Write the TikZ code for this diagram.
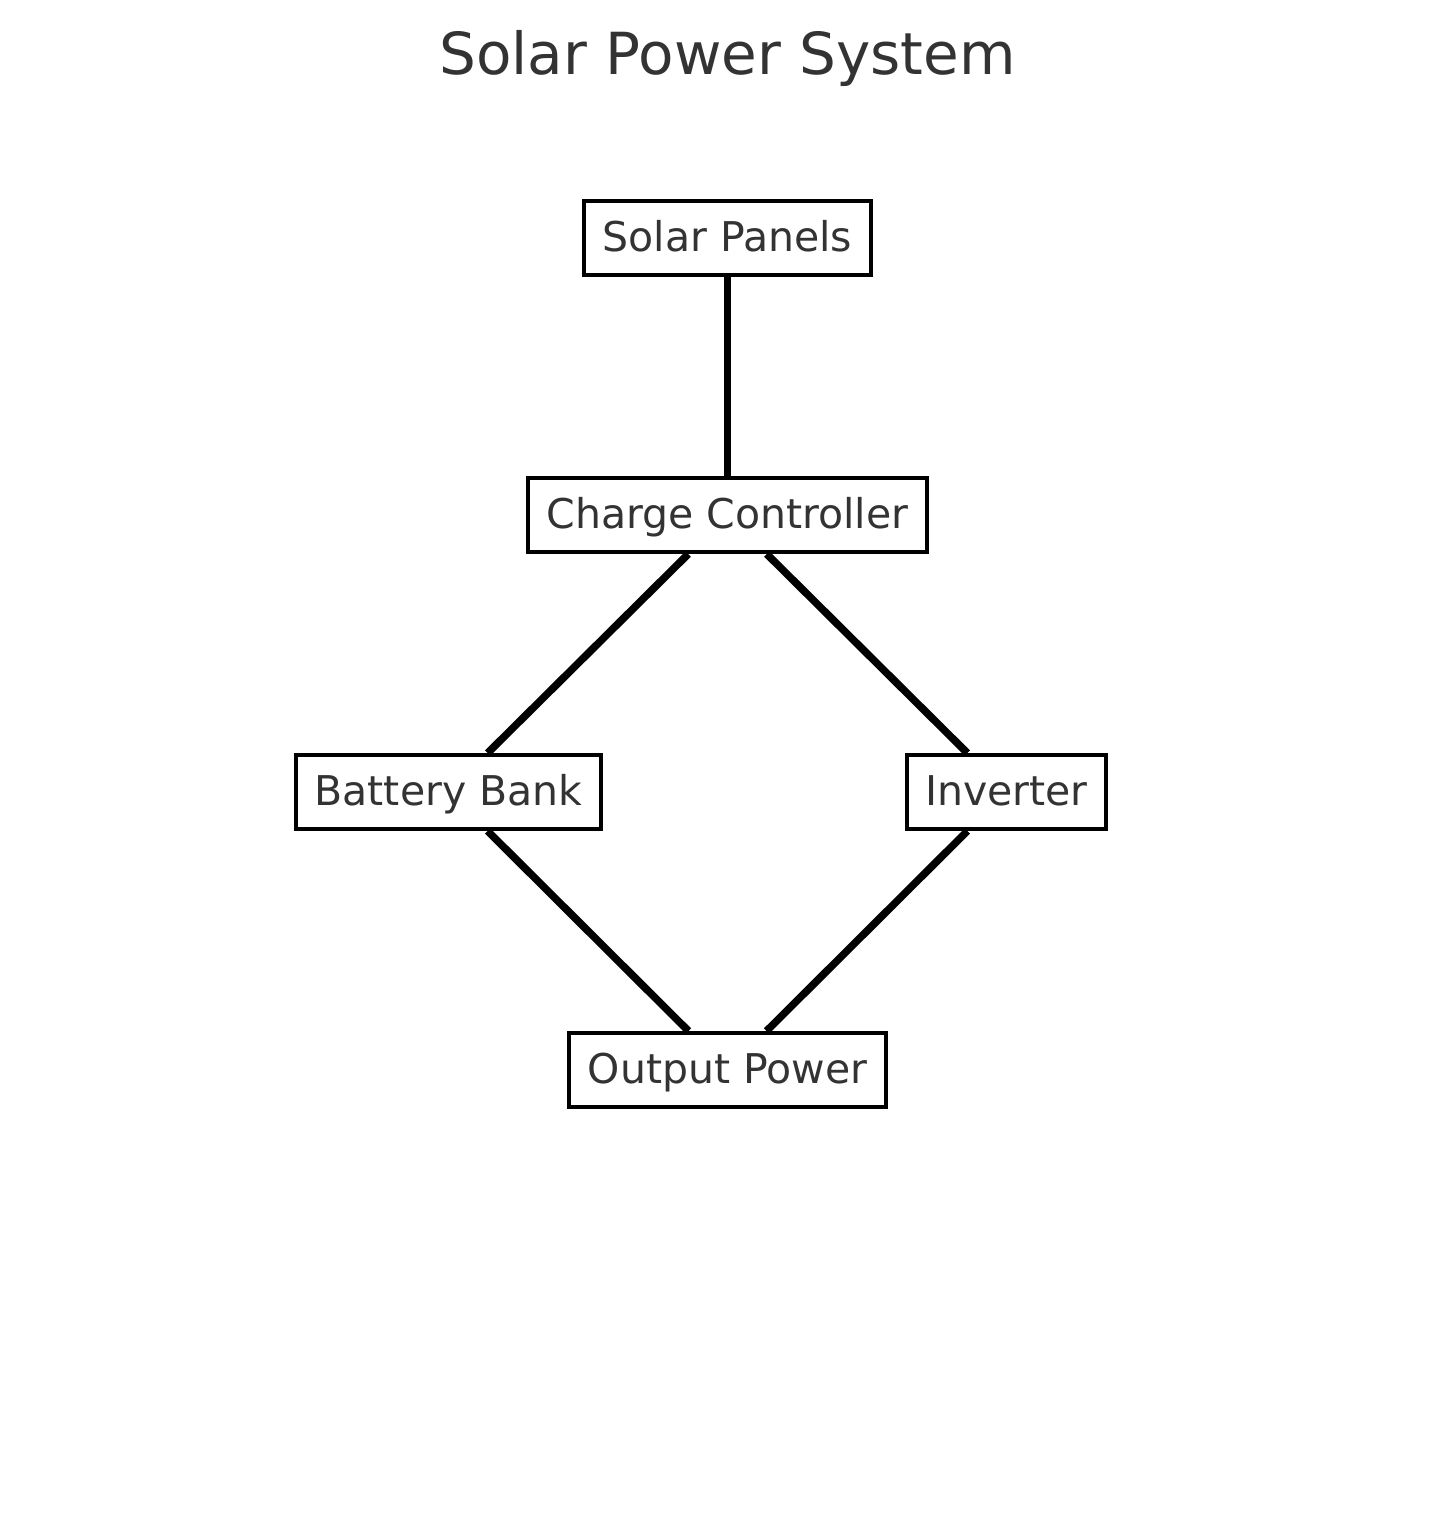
\documentclass[tikz,border=0pt]{standalone}
\usepackage{fontspec}
\setmainfont{DejaVu Sans}
\usetikzlibrary{backgrounds}

\definecolor{textgray}{HTML}{333333}

\tikzset{
  part/.style={draw=black, line width=4pt, fill=white, text=textgray,
    font=\fontsize{41}{49}\selectfont, inner xsep=18.5pt, inner ysep=0pt,
    minimum height=74pt, text height=33pt, text depth=6pt},
  link/.style={draw=black, line width=7.5pt},
  heading/.style={text=textgray, font=\fontsize{58}{70}\selectfont}
}

\begin{document}
\begin{tikzpicture}[x=1pt, y=-1pt]

\useasboundingbox (0,0) rectangle (1455,1516);

\node[heading] (title) at (727.5,58) {Solar Power System};

% the parts of the system
\node[part] (panels) at (727.5,238) {Solar Panels};
\node[part] (ctrl) at (727.5,515) {Charge Controller};
\node[part] (battery) at (448.5,792) {Battery Bank};
\node[part] (inverter) at (1006.5,792) {Inverter};
\node[part] (output) at (727.5,1070) {Output Power};

% connections
\begin{scope}[on background layer]
  \draw[link] (panels) -- (ctrl);
  \draw[link] (ctrl) -- (battery);
  \draw[link] (ctrl) -- (inverter);
  \draw[link] (battery) -- (output);
  \draw[link] (inverter) -- (output);
\end{scope}

\end{tikzpicture}
\end{document}
